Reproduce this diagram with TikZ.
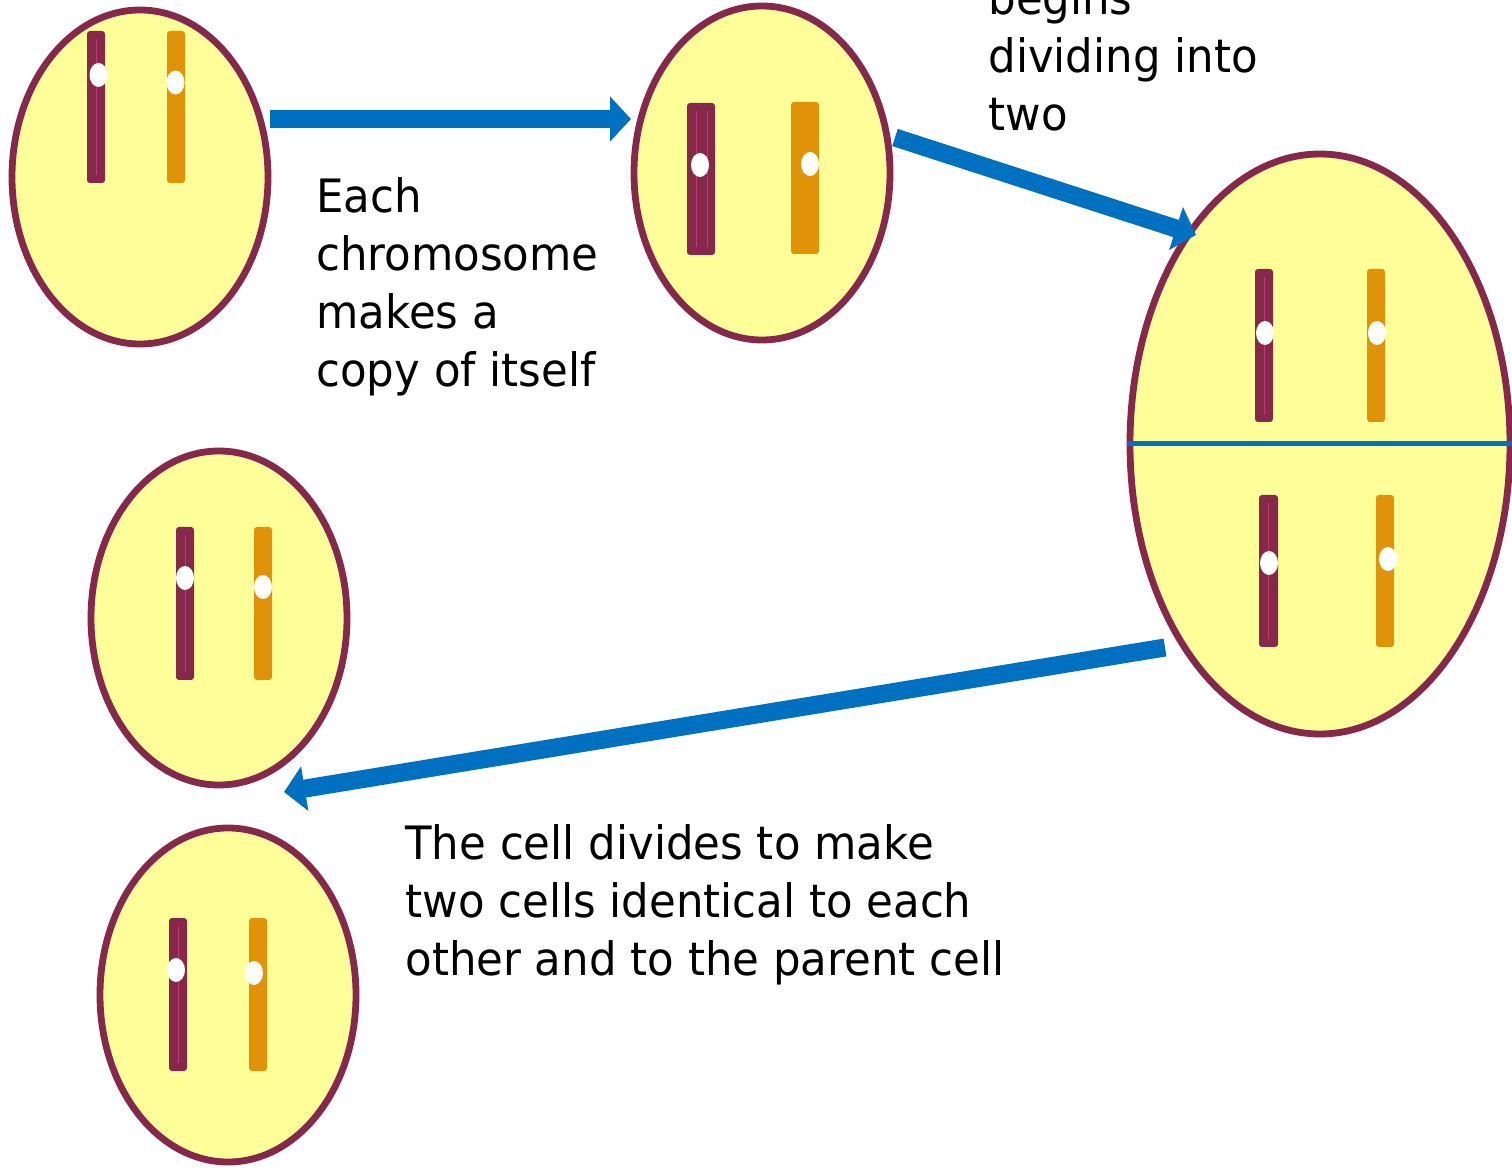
\documentclass[tikz,border=0pt]{standalone}
\usepackage{fontspec}
\setmainfont{DejaVu Sans}[FakeStretch=0.945]
\usetikzlibrary{shapes.geometric,arrows.meta}

\definecolor{cellrim}{HTML}{86284C}
\definecolor{cellfill}{HTML}{FFFF99}
\definecolor{chromA}{HTML}{86284C}
\definecolor{chromAline}{HTML}{C03C70}
\definecolor{chromB}{HTML}{E09208}
\definecolor{flow}{HTML}{0070C0}

\tikzset{
  cell/.style={ellipse, draw=cellrim, fill=cellfill, line width=3.4pt, inner sep=0pt,
               minimum width=128pt, minimum height=167pt},
  bigcell/.style={cell, minimum width=190pt, minimum height=290pt},
  barA/.style={fill=chromA, rounded corners=1.5pt},
  barB/.style={fill=chromB, rounded corners=1.5pt},
  strand/.style={draw=chromAline, line width=0.5pt},
  centro/.style={fill=white},
  flowarrow/.style={draw=flow, line width=9pt, -{Triangle[length=10.5pt,width=22pt]}},
  splitline/.style={draw=flow, line width=2.5pt},
  caption/.style={font=\fontsize{23}{29}\selectfont, align=left, inner sep=0pt, anchor=base west}
}

\begin{document}
\begin{tikzpicture}[x=0.5pt,y=-0.5pt]
\useasboundingbox (0,0) rectangle (1512,1171);
\clip (0,0) rectangle (1512,1171);

% cells
\node[cell] (c1) at (140,177) {};
\node[cell] (c2) at (762,173) {};
\node[bigcell] (c3) at (1320,444) {};
\node[cell] (c4) at (219,618) {};
\node[cell] (c5) at (228,995) {};

% cleavage line across the dividing cell
\draw[splitline] (c3.west) -- (c3.east);

% cell 1: single chromatids
\fill[barA] (87,31) rectangle (105,183);
\draw[strand] (96,39) -- (96,175);
\fill[centro] (98.5,75) ellipse [x radius=4.5pt, y radius=6pt];
\fill[barB] (167,31) rectangle (185,183);
\fill[centro] (175.5,82.5) ellipse [x radius=4.5pt, y radius=6pt];

% cell 2: duplicated chromosomes
\fill[barA] (687,103) rectangle (715,255);
\draw[strand] (696,111) -- (696,247);
\draw[strand] (707,111) -- (707,247);
\fill[centro] (700,165) ellipse [x radius=4.5pt, y radius=6pt];
\fill[barB] (791,102) rectangle (819,254);
\fill[centro] (810,164) ellipse [x radius=4.5pt, y radius=6pt];

% cell 3: upper half
\fill[barA] (1255,269) rectangle (1273,422);
\draw[strand] (1264,277) -- (1264,414);
\fill[centro] (1265,333) ellipse [x radius=4.5pt, y radius=6pt];
\fill[barB] (1367,269) rectangle (1385,422);
\fill[centro] (1377,333) ellipse [x radius=4.5pt, y radius=6pt];

% cell 3: lower half
\fill[barA] (1259,495) rectangle (1278,647);
\draw[strand] (1268.5,503) -- (1268.5,639);
\fill[centro] (1269,563) ellipse [x radius=4.5pt, y radius=6pt];
\fill[barB] (1376,495) rectangle (1394,647);
\fill[centro] (1388,559) ellipse [x radius=4.5pt, y radius=6pt];

% cell 4
\fill[barA] (176,527) rectangle (194,680);
\draw[strand] (185,535) -- (185,672);
\fill[centro] (185,578) ellipse [x radius=4.5pt, y radius=6pt];
\fill[barB] (254,527) rectangle (272,680);
\fill[centro] (263,587) ellipse [x radius=4.5pt, y radius=6pt];

% cell 5
\fill[barA] (169,918) rectangle (187,1071);
\draw[strand] (178,926) -- (178,1063);
\fill[centro] (176,970) ellipse [x radius=4.5pt, y radius=6pt];
\fill[barB] (249,918) rectangle (267,1071);
\fill[centro] (254,973) ellipse [x radius=4.5pt, y radius=6pt];

% arrow end points
\coordinate (a1s) at (270,119);
\coordinate (a1e) at (631,119);
\coordinate (a2s) at (895,137.5);
\coordinate (a2e) at (1196,235);
\coordinate (a3s) at (1165,647.5);
\coordinate (a3e) at (284,792);

\draw[flowarrow] (a1s) -- (a1e);
\draw[flowarrow] (a2s) -- (a2e);
\draw[flowarrow] (a3s) -- (a3e);

% captions (anchored at the baseline of their last line)
\node[caption] (t1) at (316,387) {Each\\chromosome\\makes a\\copy of itself};
\node[caption] (t2) at (988,131) {begins\\dividing into\\two};
\node[caption] (t3) at (405,975) {The cell divides to make\\two cells identical to each\\other and to the parent cell};
\end{tikzpicture}
\end{document}
